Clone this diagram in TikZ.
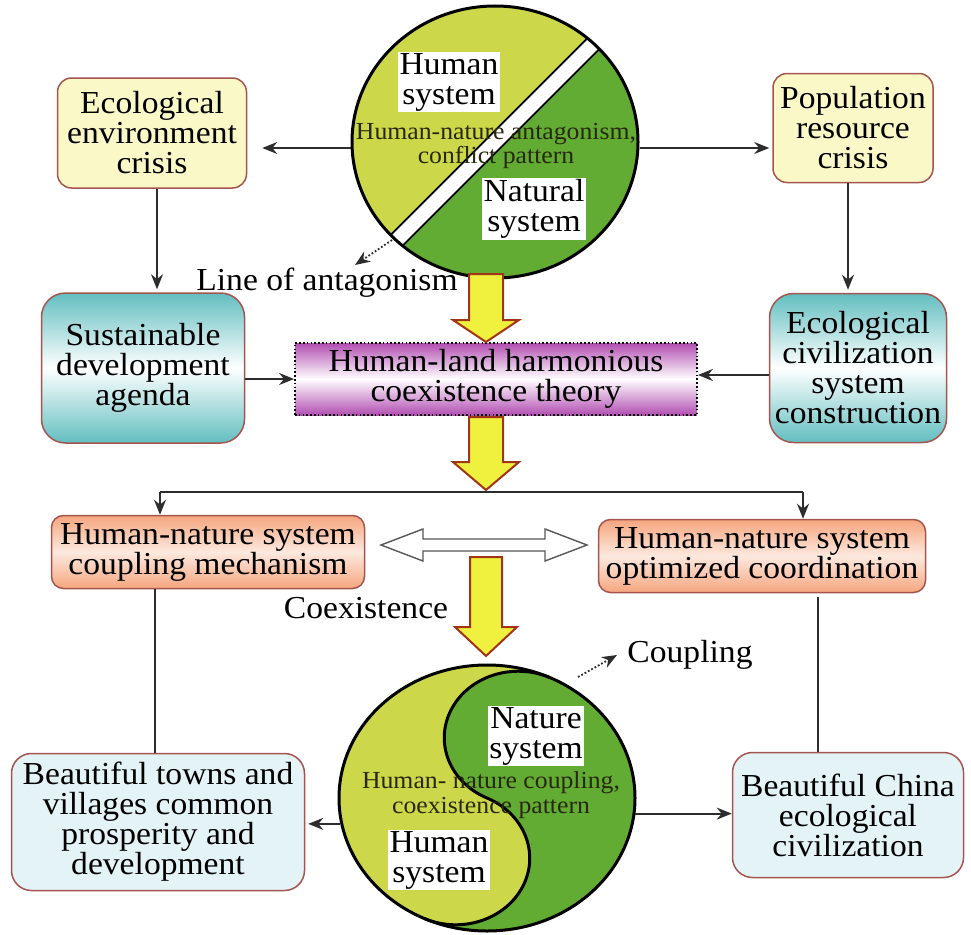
\documentclass[tikz,border=0pt]{standalone}
\usepackage{fontspec}
\setmainfont{Liberation Serif}[FakeStretch=1.05]
\usetikzlibrary{arrows.meta,calc,shapes.geometric}
\definecolor{boxborder}{RGB}{165,85,80}
\definecolor{paleyellow}{RGB}{250,248,198}
\definecolor{tealc}{RGB}{98,190,192}
\definecolor{purplec}{RGB}{178,78,178}
\definecolor{peach}{RGB}{245,166,126}
\definecolor{paleblue}{RGB}{228,243,245}
\definecolor{ygreen}{RGB}{204,216,74}
\definecolor{dgreen}{RGB}{98,172,52}
\definecolor{arrowyellow}{RGB}{240,240,62}
\definecolor{arrowred}{RGB}{160,52,22}
\definecolor{linec}{RGB}{45,45,45}
\definecolor{olivetext}{RGB}{40,40,12}
\newcommand\mainfs{\fontsize{32}{30}\selectfont}
\newcommand\smallfs{\fontsize{24.5}{24.5}\selectfont}
\begin{document}
\begin{tikzpicture}[x=1pt,y=-1pt,
  box/.style={draw=boxborder, line width=1.5pt, rounded corners=14pt, align=center,
    font=\mainfs, inner sep=0pt},
  tealbox/.style={box, rounded corners=24pt, top color=tealc, bottom color=tealc, middle color=white},
  peachbox/.style={box, rounded corners=12pt, top color=peach, bottom color=peach, middle color=peach!25},
  bluebox/.style={box, fill=paleblue, rounded corners=20pt},
  whitelbl/.style={fill=white, font=\mainfs, align=center, inner sep=1.5pt},
  smalltext/.style={font=\smallfs, align=center, text=olivetext, inner sep=0pt},
  lbl/.style={font=\mainfs, inner sep=0pt},
  conn/.style={draw=linec, line width=1.8pt, -{Stealth[length=15pt,width=12pt]}},
  plain/.style={draw=linec, line width=1.8pt},
  dotarrow/.style={draw=linec, line width=1.8pt, dotted, -{Stealth[length=15pt,width=12pt]}},
  blockarrow/.style={fill=arrowyellow, draw=arrowred, line width=2pt, line join=miter},
  hollowarrow/.style={fill=white, draw=linec!80, line width=1.4pt}
]
\useasboundingbox (0,0) rectangle (971,934);

% ---------- top circle (antagonism) ----------
\begin{scope}
  \clip (495,142) ellipse [x radius=143, y radius=136];
  \fill[ygreen] (495,142) ellipse [x radius=143, y radius=136];
  \fill[dgreen] (295,342) -- (695,-58) -- (695,342) -- cycle;
  \draw[black, line width=18pt] (345,292) -- (645,-8);
  \draw[white, line width=14pt] (345,292) -- (645,-8);
\end{scope}
\node[draw=black, line width=3pt, ellipse, minimum width=286pt, minimum height=272pt, inner sep=0pt] (tc) at (495,142) {};
\node[whitelbl] (hs1) at (449,82) {Human\\system};
\node[smalltext] (pat1) at (496,146) {Human-nature antagonism,\\conflict pattern};
\node[whitelbl] (ns1) at (534,209) {Natural\\system};
\coordinate (bandend) at (392,240);
\node[lbl] (loa) at (327,283) {Line of antagonism};
\coordinate (loatip) at (355,265);
\draw[dotarrow] (bandend) -- (loatip);

% ---------- boxes ----------
\node[box, fill=paleyellow, minimum width=189pt, minimum height=110pt] (eec) at (152,133) {Ecological\\environment\\crisis};
\node[box, fill=paleyellow, minimum width=160pt, minimum height=109pt] (pop) at (853,128) {Population\\resource\\crisis};
\node[tealbox, minimum width=203pt, minimum height=150pt] (sda) at (143,368) {Sustainable\\development\\agenda};
\node[tealbox, minimum width=177pt, minimum height=149pt] (ecs) at (858,368) {Ecological\\civilization\\system\\construction};
\node[draw=black, line width=1.8pt, dash pattern=on 1.6pt off 2.2pt, top color=purplec, bottom color=purplec, middle color=white,
  minimum width=402pt, minimum height=72pt, align=center, font=\mainfs, inner sep=0pt] (theory) at (496,379) {Human-land harmonious\\coexistence theory};
\node[peachbox, minimum width=313pt, minimum height=73pt] (m6) at (208,552) {Human-nature system\\coupling mechanism};
\node[peachbox, minimum width=327pt, minimum height=73pt] (m7) at (762,556) {Human-nature system\\optimized coordination};
\node[bluebox, minimum width=293pt, minimum height=137pt] (b8) at (158,822) {Beautiful towns and\\villages common\\prosperity and\\development};
\node[bluebox, minimum width=231pt, minimum height=125pt] (b9) at (848,815) {Beautiful China\\ecological\\civilization};

% ---------- bottom circle (coupling) ----------
\begin{scope}[shift={(487,798)}, x=148pt, y=133pt]
  \fill[ygreen] (0,0) circle [radius=1];
  \fill[dgreen] (65:1) arc[start angle=65, end angle=-115, radius=1]
     arc[start angle=245, end angle=425, radius=0.5]
     arc[start angle=245, end angle=65, radius=0.5] -- cycle;
  \draw[black, line width=3pt] (245:1) arc[start angle=245, end angle=425, radius=0.5]
     arc[start angle=245, end angle=65, radius=0.5];
\end{scope}
\node[draw=black, line width=3pt, ellipse, minimum width=296pt, minimum height=266pt, inner sep=0pt] (bc) at (487,798) {};
\node[whitelbl] (ns2) at (536,736) {Nature\\system};
\node[smalltext] (pat2) at (491,795) {Human- nature coupling,\\coexistence pattern};
\node[whitelbl] (hs2) at (439,860) {Human\\system};
\coordinate (sjunc) at (578,677);
\node[lbl] (coup) at (690,655) {Coupling};
\coordinate (couptip) at (617,655);
\draw[dotarrow] (sjunc) -- (couptip);
\node[lbl] (coex) at (366,608) {Coexistence};

% ---------- connectors ----------
\draw[conn, shorten >=15pt] ([yshift=-6pt]tc.west) -- ([yshift=-6pt]tc.west -| eec.east);
\draw[conn, shorten >=3pt] ([yshift=-6pt]tc.east) -- ([yshift=-6pt]tc.east -| pop.west);
\draw[conn, shorten >=3pt] ([xshift=5pt]eec.south) -- ([xshift=5pt]eec.south |- sda.north);
\draw[conn, shorten >=3pt] ([xshift=-5pt]pop.south) -- ([xshift=-5pt]pop.south |- ecs.north);
\draw[conn] (sda.east |- theory.west) -- (theory.west);
\draw[conn] ([yshift=4pt]ecs.west |- theory.east) -- ([yshift=4pt]theory.east);

\coordinate (sl) at (160,492);
\coordinate (sr) at (803,492);
\draw[plain] (sl) -- (sr);
\draw[conn] (sl) -- (sl |- m6.north);
\draw[conn] (sr) -- (sr |- m7.north);

\coordinate (l8) at (155,0);
\coordinate (l9) at (818,0);
\draw[plain] (m6.south -| l8) -- (b8.north -| l8);
\draw[plain] ([yshift=-4pt]m7.south -| l9) -- (b9.north -| l9);

\draw[conn, shorten >=3pt] (bc.190) -- (bc.190 -| b8.east);
\draw[conn] (bc.354) -- (bc.354 -| b9.west);

% ---------- block arrows ----------
\draw[blockarrow] (469,274) -- (503,274) -- (503,320) -- (519,320) -- (486,342) -- (453,320) -- (469,320) -- cycle;
\draw[blockarrow] (469,417) -- (503,417) -- (503,462) -- (519,462) -- (486,490) -- (453,462) -- (469,462) -- cycle;
\draw[blockarrow] (470,557) -- (502,557) -- (502,627) -- (517,627) -- (486,656) -- (455,627) -- (470,627) -- cycle;
\draw[hollowarrow] (381,545) -- (423,529) -- (423,539) -- (545,539) -- (545,529) -- (587,545) -- (545,561) -- (545,551) -- (423,551) -- (423,561) -- cycle;
\end{tikzpicture}
\end{document}
